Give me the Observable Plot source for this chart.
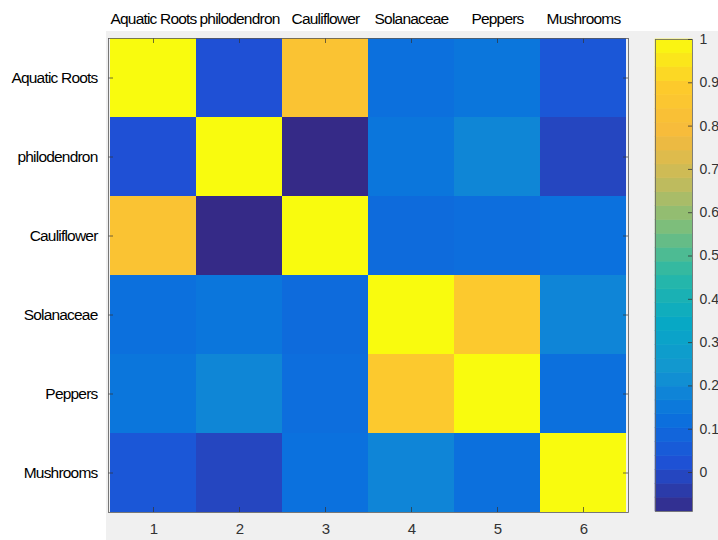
<!DOCTYPE html>
<html><head><meta charset="utf-8">
<script src="https://cdn.jsdelivr.net/npm/d3@7"></script>
<script src="https://cdn.jsdelivr.net/npm/@observablehq/plot@0.6"></script>
<style>
html,body{margin:0;padding:0;background:#fff;}
#wrap{position:relative;width:718px;height:540px;overflow:hidden;}
#bg{position:absolute;left:106px;top:31px;width:612px;height:509px;background:#f0f0f0;}
#wrap svg{position:absolute;left:0;top:0;}
.mainplot g[aria-label="x-axis tick label"] text,
.mainplot g[aria-label="y-axis tick label"] text{letter-spacing:-0.8px;}
</style></head><body>
<div id="wrap"><div id="bg"></div></div>
<script>
// ---- data ----
const categories = ["Aquatic Roots", "philodendron", "Cauliflower", "Solanaceae", "Peppers", "Mushrooms"];
const columnLabels = [1, 2, 3, 4, 5, 6];
const rowAquaticRoots = [1.00, 0.02, 0.84, 0.12, 0.14, 0.04];
const rowPhilodendron = [0.02, 1.00, -0.09, 0.14, 0.19, -0.01];
const rowCauliflower  = [0.84, -0.09, 1.00, 0.105, 0.115, 0.125];
const rowSolanaceae   = [0.12, 0.14, 0.105, 1.00, 0.88, 0.185];
const rowPeppers      = [0.14, 0.19, 0.115, 0.88, 1.00, 0.12];
const rowMushrooms    = [0.04, -0.01, 0.125, 0.185, 0.12, 1.00];
const colorbarTicks = [0, 0.1, 0.2, 0.3, 0.4, 0.5, 0.6, 0.7, 0.8, 0.9, 1];
const colorDomain = [-0.09, 1];

// parula-like colormap
const parulaStops = ["#352a87", "#1f50d5", "#0a72de", "#1396d0", "#07a9c5", "#29b8a6",
                     "#7bbe7c", "#c5bb5b", "#f6ba3c", "#fdcb2c", "#f9fb0e"];
const parula = d3.piecewise(d3.interpolateRgb, parulaStops);

const rows = [rowAquaticRoots, rowPhilodendron, rowCauliflower, rowSolanaceae, rowPeppers, rowMushrooms];
const cells = categories.flatMap((r, i) => columnLabels.map((c, j) => ({row: r, col: c, value: rows[i][j]})));

const narrow = "'Liberation Sans', Arial, sans-serif";
const regular = "'Liberation Sans', Arial, Helvetica, sans-serif";

const W = 718, H = 540;
const mL = 108, mR = 90, mT = 38, mB = 28;
const innerW = W - mL - mR, innerH = H - mT - mB;
const tk = 5;

const colorOpts = {type: "linear", domain: colorDomain, interpolate: parula, clamp: true};

const main = Plot.plot({
  className: "mainplot",
  width: W, height: H,
  marginLeft: mL, marginRight: mR, marginTop: mT, marginBottom: mB,
  style: {background: "transparent", overflow: "visible"},
  x: {type: "band", domain: columnLabels, padding: 0, axis: null, label: null},
  y: {type: "band", domain: categories, padding: 0, axis: null, label: null},
  color: colorOpts,
  marks: [
    Plot.cell(cells, {x: "col", y: "row", fill: "value"}),
    Plot.tickX(columnLabels, {x: d => d, insetBottom: innerH - tk, stroke: "#333", strokeOpacity: 0.7}),
    Plot.tickX(columnLabels, {x: d => d, insetTop: innerH - tk, stroke: "#333", strokeOpacity: 0.7}),
    Plot.tickY(categories, {y: d => d, insetRight: innerW - tk, stroke: "#333", strokeOpacity: 0.7}),
    Plot.tickY(categories, {y: d => d, insetLeft: innerW - tk, stroke: "#333", strokeOpacity: 0.7}),
    Plot.frame({stroke: "#5a5a5a", strokeWidth: 0.8}),
    Plot.axisX({anchor: "top", tickSize: 0, tickPadding: 15, label: null, tickFormat: c => categories[c - 1],
                fontSize: 15.5, fill: "#000", fontFamily: narrow}),
    Plot.axisX({anchor: "bottom", tickSize: 0, tickPadding: 11, label: null, fontSize: 15, fill: "#333", fontFamily: regular}),
    Plot.axisY({anchor: "left", tickSize: 0, tickPadding: 11, label: null, fontSize: 15.5, fill: "#000", fontFamily: narrow})
  ]
});

// colorbar
const nBands = 34;
const step = (colorDomain[1] - colorDomain[0]) / nBands;
const bands = d3.range(nBands).map(i => ({
  y1: colorDomain[0] + i * step,
  y2: colorDomain[0] + (i + 1) * step,
  v: colorDomain[0] + (i + 0.5) * step
}));

const cb = Plot.plot({
  width: W, height: H,
  marginLeft: 655, marginRight: 26, marginTop: 39, marginBottom: 29,
  style: {background: "transparent", overflow: "visible"},
  y: {domain: colorDomain, axis: null, label: null},
  color: colorOpts,
  marks: [
    Plot.rect(bands, {y1: "y1", y2: "y2", fill: "v", stroke: "v", strokeWidth: 0.6}),
    Plot.frame({stroke: "#666", strokeWidth: 0.8}),
    Plot.tickY(colorbarTicks, {y: d => d, insetLeft: 37 - 4, stroke: "#333", strokeOpacity: 0.8}),
    Plot.axisY(colorbarTicks, {anchor: "right", tickSize: 0, tickPadding: 7, label: null, fontSize: 14, fill: "#333",
                fontFamily: regular, tickFormat: d => String(+d.toFixed(1))})
  ]
});

const wrap = document.getElementById("wrap");
wrap.appendChild(main);
wrap.appendChild(cb);
</script>
</body></html>
